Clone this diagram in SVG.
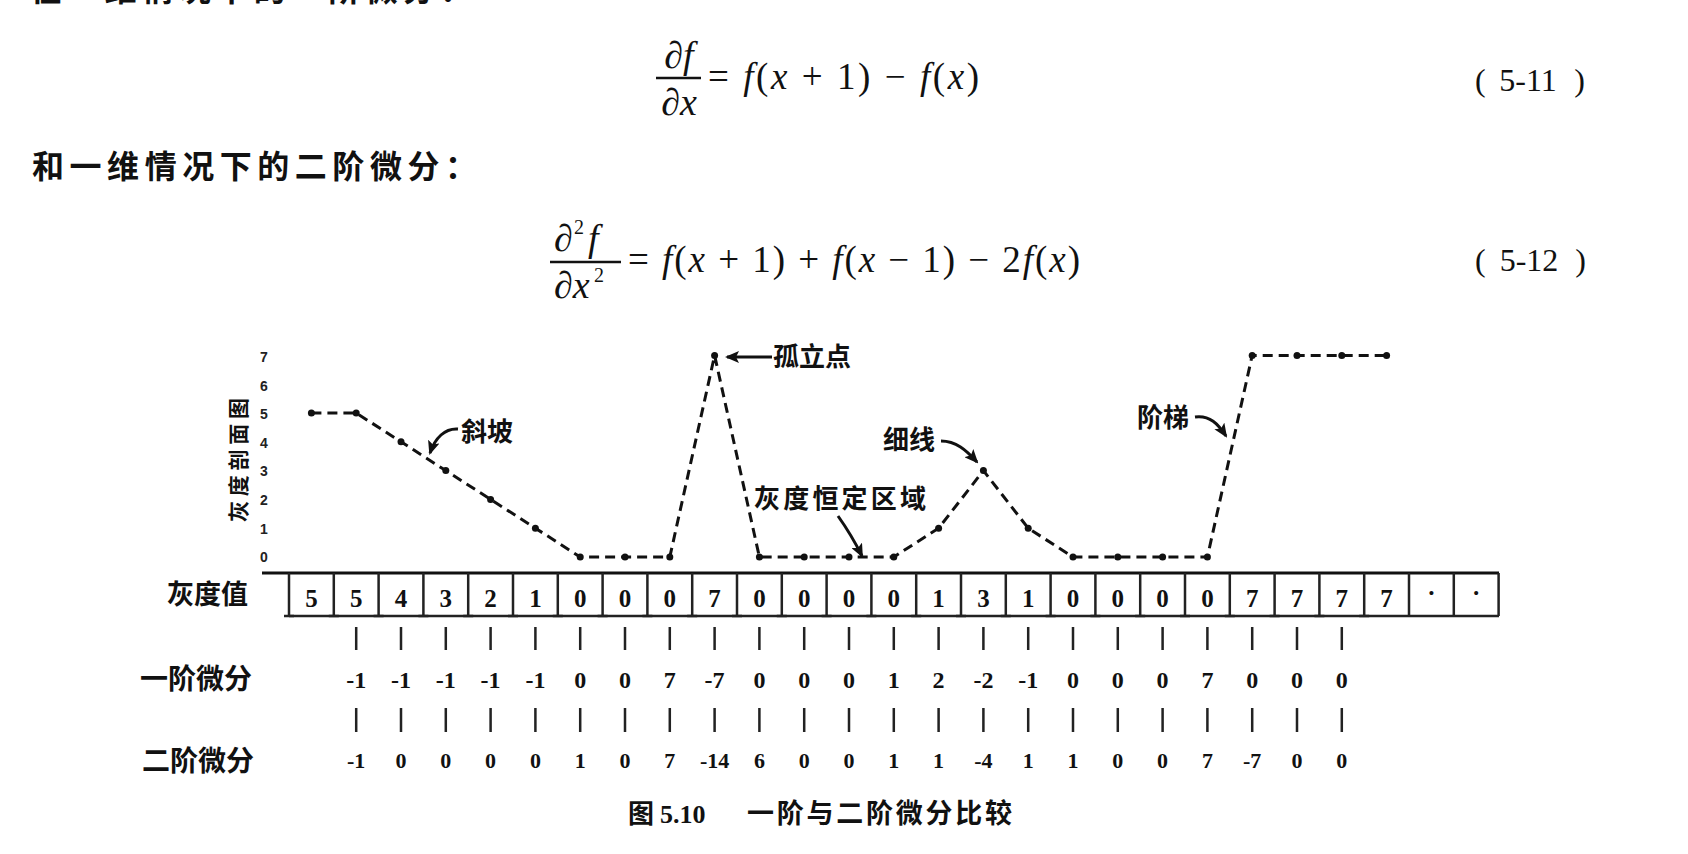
<svg xmlns="http://www.w3.org/2000/svg" width="1688" height="854" viewBox="0 0 1688 854">
<defs>
<style>
.cjk{font-family:"Noto Sans CJK SC","Noto Sans CJK TC",sans-serif;font-weight:700;fill:#111}
.num{font-family:"Liberation Serif",serif;font-weight:700;fill:#111;text-anchor:middle}
.math{font-family:"Liberation Serif",serif;fill:#111}
.it{font-style:italic}
.tick{font-family:"Liberation Sans",sans-serif;font-weight:700;font-size:14px;fill:#222;text-anchor:middle}
.curve{fill:none;stroke:#111;stroke-width:3;stroke-dasharray:10 6}
.dot{fill:#111}
.arrow{fill:none;stroke:#111;stroke-width:3;marker-end:url(#ah)}
.bar{stroke:#111;stroke-width:2.5}
.grid{stroke:#222;stroke-width:2.5;fill:none}
.mark{stroke:#222;stroke-width:2.5}
</style>
<marker id="ah" markerWidth="14" markerHeight="12" refX="12" refY="6" orient="auto" markerUnits="userSpaceOnUse">
<path d="M0,0 L14,6 L0,12 L3,6 z" fill="#111"/>
</marker>
</defs>
<rect width="1688" height="854" fill="#fff"/>

<g id="text-top">
<text class="cjk" x="30" y="1" font-size="32" textLength="442" lengthAdjust="spacing">在一维情况下的一阶微分：</text>
<text class="cjk" x="32" y="178" font-size="32" textLength="445" lengthAdjust="spacing">和一维情况下的二阶微分：</text>
</g>

<g id="eq-5-11">
<text class="math it" x="679" y="68" font-size="38" text-anchor="middle">∂f</text>
<line class="bar" x1="656" y1="78" x2="701" y2="78"/>
<text class="math it" x="679" y="115" font-size="38" text-anchor="middle">∂x</text>
<text class="math" x="708" y="89" font-size="37" textLength="271" lengthAdjust="spacing">= <tspan class="it">f</tspan>(<tspan class="it">x</tspan> + 1) − <tspan class="it">f</tspan>(<tspan class="it">x</tspan>)</text>
<text class="math" x="1475" y="91" font-size="32">(</text>
<text class="math" x="1528" y="91" font-size="32" text-anchor="middle">5-11</text>
<text class="math" x="1585" y="91" font-size="32" text-anchor="end">)</text>
</g>

<g id="eq-5-12">
<text class="math it" x="554" y="251" font-size="38">∂</text>
<text class="math" x="574" y="234" font-size="20">2</text>
<text class="math it" x="588" y="251" font-size="38">f</text>
<line class="bar" x1="550" y1="262" x2="621" y2="262"/>
<text class="math it" x="554" y="298" font-size="38">∂x</text>
<text class="math" x="594" y="282" font-size="20">2</text>
<text class="math" x="628" y="272" font-size="37" textLength="452" lengthAdjust="spacing">= <tspan class="it">f</tspan>(<tspan class="it">x</tspan> + 1) + <tspan class="it">f</tspan>(<tspan class="it">x</tspan> − 1) − 2<tspan class="it">f</tspan>(<tspan class="it">x</tspan>)</text>
<text class="math" x="1475" y="271" font-size="32">(</text>
<text class="math" x="1529" y="271" font-size="32" text-anchor="middle">5-12</text>
<text class="math" x="1586" y="271" font-size="32" text-anchor="end">)</text>
</g>

<g id="y-axis">
<text class="cjk" font-size="21" transform="translate(246,460) rotate(-90)" text-anchor="middle" textLength="124" lengthAdjust="spacing">灰度剖面图</text>
<text class="tick" x="264" y="362">7</text>
<text class="tick" x="264" y="391">6</text>
<text class="tick" x="264" y="419">5</text>
<text class="tick" x="264" y="448">4</text>
<text class="tick" x="264" y="476">3</text>
<text class="tick" x="264" y="505">2</text>
<text class="tick" x="264" y="534">1</text>
<text class="tick" x="264" y="562">0</text>
</g>

<g id="profile">
<polyline class="curve" points="311.4,413 356.2,413 401,441.8 445.8,470.6 490.6,499.4 535.4,528.2 580.2,557 625,557 669.8,557 714.6,355.4 759.4,557 804.2,557 849,557 893.8,557 938.6,528.2 983.4,470.6 1028.2,528.2 1073,557 1117.8,557 1162.6,557 1207.4,557 1252.2,355.4 1297,355.4 1341.8,355.4 1386.6,355.4"/>
<g class="dot">
<circle cx="311.4" cy="413" r="3.5"/><circle cx="356.2" cy="413" r="3.5"/><circle cx="401" cy="441.8" r="3.5"/><circle cx="445.8" cy="470.6" r="3.5"/><circle cx="490.6" cy="499.4" r="3.5"/><circle cx="535.4" cy="528.2" r="3.5"/><circle cx="580.2" cy="557" r="3.5"/><circle cx="625" cy="557" r="3.5"/><circle cx="669.8" cy="557" r="3.5"/><circle cx="714.6" cy="355.4" r="3.5"/><circle cx="759.4" cy="557" r="3.5"/><circle cx="804.2" cy="557" r="3.5"/><circle cx="849" cy="557" r="3.5"/><circle cx="893.8" cy="557" r="3.5"/><circle cx="938.6" cy="528.2" r="3.5"/><circle cx="983.4" cy="470.6" r="3.5"/><circle cx="1028.2" cy="528.2" r="3.5"/><circle cx="1073" cy="557" r="3.5"/><circle cx="1117.8" cy="557" r="3.5"/><circle cx="1162.6" cy="557" r="3.5"/><circle cx="1207.4" cy="557" r="3.5"/><circle cx="1252.2" cy="355.4" r="3.5"/><circle cx="1297" cy="355.4" r="3.5"/><circle cx="1341.8" cy="355.4" r="3.5"/><circle cx="1386.6" cy="355.4" r="3.5"/>
</g>
</g>

<g id="connectors">
<path class="arrow" d="M458,429 C445,428 435,438 430,453"/>
<path class="arrow" d="M772,357 L727,357"/>
<path class="arrow" d="M941,441 C956,441 966,450 977,462"/>
<path class="arrow" d="M838,516 C848,530 856,544 862,556"/>
<path class="arrow" d="M1195,417 C1210,415 1218,424 1226,436"/>
</g>

<g id="label-ramp"><text class="cjk" x="461" y="441" font-size="26">斜坡</text></g>
<g id="label-point"><text class="cjk" x="773" y="366" font-size="26">孤立点</text></g>
<g id="label-line"><text class="cjk" x="883" y="449" font-size="26">细线</text></g>
<g id="label-flat"><text class="cjk" x="754" y="508" font-size="26" textLength="172" lengthAdjust="spacing">灰度恒定区域</text></g>
<g id="label-step"><text class="cjk" x="1137" y="427" font-size="26">阶梯</text></g>

<g id="table">
<line x1="262" y1="573" x2="1499" y2="573" stroke="#111" stroke-width="3"/>
<line x1="289" y1="616" x2="1499" y2="616" class="grid"/>
<path class="grid" d="M289,573V616M333.8,573V616M378.6,573V616M423.4,573V616M468.2,573V616M513,573V616M557.8,573V616M602.6,573V616M647.4,573V616M692.2,573V616M737,573V616M781.8,573V616M826.6,573V616M871.4,573V616M916.2,573V616M961,573V616M1005.8,573V616M1050.6,573V616M1095.4,573V616M1140.2,573V616M1185,573V616M1229.8,573V616M1274.6,573V616M1319.4,573V616M1364.2,573V616M1409,573V616M1453.8,573V616M1498.6,573V616"/>
<path class="grid" d="M284,616h10M328.8,616h10M373.6,616h10M418.4,616h10M463.2,616h10M508,616h10M552.8,616h10M597.6,616h10M642.4,616h10M687.2,616h10M732,616h10M776.8,616h10M821.6,616h10M866.4,616h10M911.2,616h10M956,616h10M1000.8,616h10M1045.6,616h10M1090.4,616h10M1135.2,616h10M1180,616h10M1224.8,616h10M1269.6,616h10M1314.4,616h10M1359.2,616h10" stroke-width="4"/>
<g id="cells" font-size="25">
<text class="num" x="311.4" y="607">5</text>
<text class="num" x="356.2" y="607">5</text>
<text class="num" x="401" y="607">4</text>
<text class="num" x="445.8" y="607">3</text>
<text class="num" x="490.6" y="607">2</text>
<text class="num" x="535.4" y="607">1</text>
<text class="num" x="580.2" y="607">0</text>
<text class="num" x="625" y="607">0</text>
<text class="num" x="669.8" y="607">0</text>
<text class="num" x="714.6" y="607">7</text>
<text class="num" x="759.4" y="607">0</text>
<text class="num" x="804.2" y="607">0</text>
<text class="num" x="849" y="607">0</text>
<text class="num" x="893.8" y="607">0</text>
<text class="num" x="938.6" y="607">1</text>
<text class="num" x="983.4" y="607">3</text>
<text class="num" x="1028.2" y="607">1</text>
<text class="num" x="1073" y="607">0</text>
<text class="num" x="1117.8" y="607">0</text>
<text class="num" x="1162.6" y="607">0</text>
<text class="num" x="1207.4" y="607">0</text>
<text class="num" x="1252.2" y="607">7</text>
<text class="num" x="1297" y="607">7</text>
<text class="num" x="1341.8" y="607">7</text>
<text class="num" x="1386.6" y="607">7</text>
<text class="num" x="1431.4" y="601">·</text>
<text class="num" x="1476.2" y="601">·</text>
</g>
<text class="cjk" x="167" y="604" font-size="27">灰度值</text>
</g>

<g id="first-derivative">
<path class="mark" d="M356.2,627V650M401,627V650M445.8,627V650M490.6,627V650M535.4,627V650M580.2,627V650M625,627V650M669.8,627V650M714.6,627V650M759.4,627V650M804.2,627V650M849,627V650M893.8,627V650M938.6,627V650M983.4,627V650M1028.2,627V650M1073,627V650M1117.8,627V650M1162.6,627V650M1207.4,627V650M1252.2,627V650M1297,627V650M1341.8,627V650"/>
<text class="cjk" x="140" y="689" font-size="28">一阶微分</text>
<g font-size="24">
<text class="num" x="356.2" y="688">-1</text>
<text class="num" x="401" y="688">-1</text>
<text class="num" x="445.8" y="688">-1</text>
<text class="num" x="490.6" y="688">-1</text>
<text class="num" x="535.4" y="688">-1</text>
<text class="num" x="580.2" y="688">0</text>
<text class="num" x="625" y="688">0</text>
<text class="num" x="669.8" y="688">7</text>
<text class="num" x="714.6" y="688">-7</text>
<text class="num" x="759.4" y="688">0</text>
<text class="num" x="804.2" y="688">0</text>
<text class="num" x="849" y="688">0</text>
<text class="num" x="893.8" y="688">1</text>
<text class="num" x="938.6" y="688">2</text>
<text class="num" x="983.4" y="688">-2</text>
<text class="num" x="1028.2" y="688">-1</text>
<text class="num" x="1073" y="688">0</text>
<text class="num" x="1117.8" y="688">0</text>
<text class="num" x="1162.6" y="688">0</text>
<text class="num" x="1207.4" y="688">7</text>
<text class="num" x="1252.2" y="688">0</text>
<text class="num" x="1297" y="688">0</text>
<text class="num" x="1341.8" y="688">0</text>
</g>
</g>

<g id="second-derivative">
<path class="mark" d="M356.2,708V732M401,708V732M445.8,708V732M490.6,708V732M535.4,708V732M580.2,708V732M625,708V732M669.8,708V732M714.6,708V732M759.4,708V732M804.2,708V732M849,708V732M893.8,708V732M938.6,708V732M983.4,708V732M1028.2,708V732M1073,708V732M1117.8,708V732M1162.6,708V732M1207.4,708V732M1252.2,708V732M1297,708V732M1341.8,708V732"/>
<text class="cjk" x="142" y="771" font-size="28">二阶微分</text>
<g font-size="22">
<text class="num" x="356.2" y="768">-1</text>
<text class="num" x="401" y="768">0</text>
<text class="num" x="445.8" y="768">0</text>
<text class="num" x="490.6" y="768">0</text>
<text class="num" x="535.4" y="768">0</text>
<text class="num" x="580.2" y="768">1</text>
<text class="num" x="625" y="768">0</text>
<text class="num" x="669.8" y="768">7</text>
<text class="num" x="714.6" y="768">-14</text>
<text class="num" x="759.4" y="768">6</text>
<text class="num" x="804.2" y="768">0</text>
<text class="num" x="849" y="768">0</text>
<text class="num" x="893.8" y="768">1</text>
<text class="num" x="938.6" y="768">1</text>
<text class="num" x="983.4" y="768">-4</text>
<text class="num" x="1028.2" y="768">1</text>
<text class="num" x="1073" y="768">1</text>
<text class="num" x="1117.8" y="768">0</text>
<text class="num" x="1162.6" y="768">0</text>
<text class="num" x="1207.4" y="768">7</text>
<text class="num" x="1252.2" y="768">-7</text>
<text class="num" x="1297" y="768">0</text>
<text class="num" x="1341.8" y="768">0</text>
</g>
</g>

<g id="caption">
<text class="cjk" x="628" y="823" font-size="26">图 <tspan font-family="Liberation Serif" font-weight="700">5.10</tspan></text>
<text class="cjk" x="747" y="823" font-size="27" textLength="265" lengthAdjust="spacing">一阶与二阶微分比较</text>
</g>
</svg>
